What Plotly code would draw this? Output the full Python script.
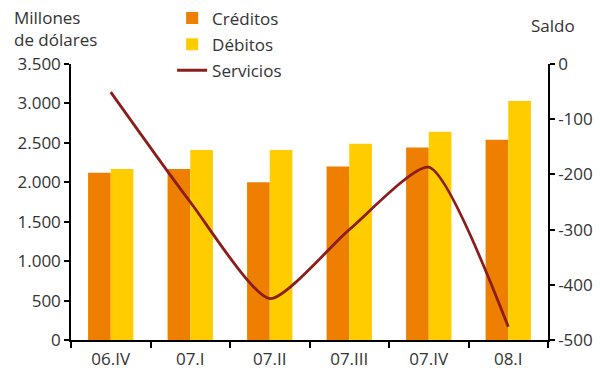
import plotly.graph_objects as go

# Quarterly services trade (millions of dollars)
quarters = ["06.IV", "07.I", "07.II", "07.III", "07.IV", "08.I"]
creditos = [2120, 2170, 2000, 2200, 2440, 2540]
debitos = [2170, 2410, 2410, 2490, 2640, 3030]
servicios = [-51, -250, -425, -300, -187, -476]

left_ticks = [0, 500, 1000, 1500, 2000, 2500, 3000, 3500]
right_ticks = [0, -100, -200, -300, -400, -500]
right_labels = ["0", "-100", "-200", "-300", "-400", "-500"]

FONT = "Open Sans"
TXT = "#333333"
FS = 17

fig = go.Figure()
fig.add_trace(go.Bar(x=quarters, y=creditos, name="Créditos", legendgroup="c",
                     marker=dict(color="#EE7F00", line=dict(width=0))))
fig.add_trace(go.Bar(x=quarters, y=debitos, name="Débitos", legendgroup="d",
                     marker=dict(color="#FFCC00", line=dict(width=0))))
fig.add_trace(go.Scatter(x=quarters, y=servicios, name="Servicios", yaxis="y2",
                         legendgroup="s", mode="lines",
                         line=dict(color="#8C1D1A", width=2.8,
                                   shape="spline", smoothing=0.6)))

fig.update_layout(
    width=600, height=374,
    margin=dict(l=71, r=52, t=64, b=34, autoexpand=False),
    paper_bgcolor="white", plot_bgcolor="white",
    font=dict(family=FONT, size=FS, color=TXT),
    separators=",.",
    barmode="group", bargap=0.43, bargroupgap=0,
    showlegend=True,
    legend=dict(x=0.212, y=1.23, xanchor="left", yanchor="top",
                bgcolor="rgba(0,0,0,0)", font=dict(size=FS, color=TXT),
                traceorder="grouped", tracegroupgap=1, itemwidth=30),
    xaxis=dict(type="category", range=[-0.5, 5.5], showline=True,
               linecolor="black", linewidth=1.5, ticks="outside",
               tickson="boundaries", ticklen=6, tickwidth=1.5,
               tickcolor="black", showgrid=False, zeroline=False,
               ticklabelstandoff=3, tickfont=dict(size=FS, color=TXT)),
    xaxis2=dict(overlaying="x", anchor="y", range=[-0.5, 5.5],
                tickvals=[-0.5, 0.5, 1.5, 2.5, 3.5, 4.5, 5.5], ticks="inside",
                ticklen=5, tickwidth=1.5, tickcolor="black",
                showticklabels=False, showline=False, showgrid=False,
                zeroline=False),
    yaxis=dict(range=[0, 3500], tickvals=left_ticks, tickformat=",.0f",
               showline=True, linecolor="black", linewidth=1.5,
               ticks="outside", ticklen=5, tickwidth=1.5, tickcolor="black",
               showgrid=False, zeroline=False,
               tickfont=dict(size=FS, color=TXT)),
    yaxis2=dict(range=[-500, 0], overlaying="y", side="right",
                tickvals=right_ticks, ticktext=right_labels,
                showline=True, linecolor="black", linewidth=1.5,
                ticks="outside", ticklen=5, tickwidth=1.5, tickcolor="black",
                showgrid=False, zeroline=False,
                tickfont=dict(size=FS, color=TXT)),
    annotations=[
        dict(text="Millones<br>de dólares", xref="paper", yref="paper",
             x=-0.124, y=1.127, xanchor="left", yanchor="middle",
             align="left", showarrow=False, font=dict(size=FS, color=TXT)),
        dict(text="Saldo", xref="paper", yref="paper",
             x=1.01, y=1.138, xanchor="center", yanchor="middle",
             showarrow=False, font=dict(size=FS, color=TXT)),
    ],
)

fig.write_html("out.html")
